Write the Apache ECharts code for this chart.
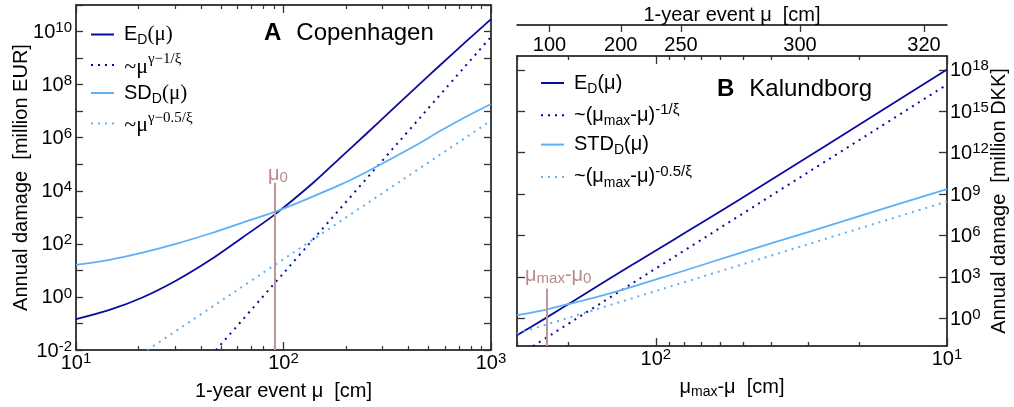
<!DOCTYPE html>
<html><head><meta charset="utf-8">
<script src="https://cdn.jsdelivr.net/npm/echarts@6/dist/echarts.min.js"></script>
<style>html,body{margin:0;padding:0;background:#fff}#c{width:1014px;height:407px}</style>
</head><body><div id="c"></div>
<script>
// ---------- Panel A: Copenhagen (x = 1-year event mu [cm]) ----------
const aMu      = [10, 14.5, 20.9, 30.3, 43.9, 63.5, 92, 140, 187, 250, 326, 450, 568, 750, 1000];
const aExpected= [0.145, 0.324, 0.955, 4.07, 23.4, 174, 1380, 20900, 169800, 1.38e6, 9.55e6, 1.0e8, 5.37e8, 3.89e9, 2.95e10];
const aStd     = [16.2, 25.1, 46.8, 100, 240, 631, 1660, 6310, 16600, 50100, 151000, 603000, 1.78e6, 5.89e6, 1.86e7];
const aMuAsym1 = [47.3, 1000];  const aAsym1 = [0.01, 6.3e9];
const aMuAsym2 = [22.1, 1000];  const aAsym2 = [0.01, 4.37e6];
const aMu0 = 91, aMarkTop = 2e4;
const aYTicks  = [1e-2,1e-1,1,1e1,1e2,1e3,1e4,1e5,1e6,1e7,1e8,1e9,1e10,1e11];
const aYLabels = [1e-2,1,1e2,1e4,1e6,1e8,1e10];

// ---------- Panel B: Kalundborg (x = mu_max - mu [cm]) ----------
const bD        = [300, 240, 190, 121, 51.4, 10];
const bExpected = [0.06, 1.0, 20.9, 7240, 4.17e8, 1.05e18];
const bDStd     = [300, 240, 190, 150, 120, 80, 50, 30, 20, 10];
const bStd      = [1.70, 4.17, 14.1, 50.1, 200, 2820, 66100, 1.78e6, 2.51e7, 2.29e9];
const bDAsym1 = [264, 10];  const bAsym1 = [0.01, 8.5e16];
const bDAsym2 = [300, 10];  const bAsym2 = [0.079, 2.88e8];
const bD0 = 238, bMarkTop = 145;
const bMuMax = 332;
const bTopMu = [100, 200, 250, 300, 320];
const bXMajor = [10, 100];
const bXMinor = [20,30,40,50,60,70,80,90,200,300];
const bYTicks = [1,1e3,1e6,1e9,1e12,1e15,1e18];

const FONT = '"Liberation Sans", Arial, Helvetica, sans-serif';
const SERIF = '"Liberation Serif", "Times New Roman", serif';
const DARK = '#0a0a9e', LIGHT = '#5fb0f4', MARK = '#c29595', MARKTXT = '#b98a8a';

const zip = (xs, ys) => xs.map((x, i) => [x, ys[i]]);
function powLabel(v) { const e = Math.round(Math.log10(v)); return '{b|10}{s|' + e + '}'; }
const POWRICH = {
  b: {fontFamily: FONT, fontSize: 20, color: '#000', lineHeight: 22, verticalAlign: 'bottom'},
  s: {fontFamily: FONT, fontSize: 15, color: '#000', lineHeight: 9, verticalAlign: 'top'}
};
const NAMESTYLE = {fontFamily: FONT, fontSize: 20, color: '#000',
  rich: {n: {fontFamily: FONT, fontSize: 20, color: '#000', lineHeight: 24},
         ns: {fontFamily: FONT, fontSize: 14, color: '#000', lineHeight: 10, verticalAlign: 'bottom'}}};
const AXLINE = {show: true, onZero: false, lineStyle: {color: '#000', width: 1.5}};
const NOLINE = {show: false, onZero: false};
function tick(len, vals) {
  const t = {show: true, inside: true, length: len, lineStyle: {color: '#333', width: 1.3}};
  if (vals) t.customValues = vals;
  return t;
}
const MINOR = {show: true, splitNumber: 9, length: 4, lineStyle: {color: '#333', width: 1.2}};
const NOSPLIT = {show: false};

const LEGRICH = {
  t: {fontFamily: FONT, fontSize: 20, color: '#000', lineHeight: 26},
  ts: {fontFamily: SERIF, fontSize: 21, color: '#000', lineHeight: 26},
  sub: {fontFamily: FONT, fontSize: 14, color: '#000', lineHeight: 10, verticalAlign: 'bottom'},
  h: {fontSize: 1, lineHeight: 26},
  ts2: {fontFamily: SERIF, fontSize: 22, color: '#000', lineHeight: 14, verticalAlign: 'bottom'},
  sup: {fontFamily: SERIF, fontSize: 15, color: '#000', lineHeight: 20, verticalAlign: 'top'},
  sup2: {fontFamily: FONT, fontSize: 15, color: '#000', lineHeight: 10, verticalAlign: 'top'}
};
const LEG = {
  aED: '{t|E}{sub|D}{ts|(μ)}',
  aA1: '{h| }{ts2|~μ}{sup|γ−1/ξ}',
  aSD: '{t|SD}{sub|D}{ts|(μ)}',
  aA2: '{h| }{ts2|~μ}{sup|γ−0.5/ξ}',
  bED: '{t|E}{sub|D}{t|(μ)}',
  bA1: '{t|~(μ}{sub|max}{t|-μ)}{sup2|-1/ξ}',
  bSTD: '{t|STD}{sub|D}{t|(μ)}',
  bA2: '{t|~(μ}{sub|max}{t|-μ)}{sup2|-0.5/ξ}'
};
const MARKRICH = {
  m: {fontFamily: FONT, fontSize: 20, color: MARKTXT, lineHeight: 22},
  s: {fontFamily: FONT, fontSize: 15, color: MARKTXT, lineHeight: 12, verticalAlign: 'bottom'}
};

function legend(names, left, top, gap) {
  return {data: names, orient: 'vertical', left: left, top: top, padding: 0, itemGap: gap,
    itemWidth: 23, itemHeight: 14, selectedMode: false,
    itemStyle: {opacity: 0, borderWidth: 0},
    formatter: n => LEG[n], textStyle: {padding: [0, 0, 0, 5], rich: LEGRICH}};
}
function lineSeries(name, xi, yi, data, color, dotted, extra) {
  const s = {name: name, type: 'line', xAxisIndex: xi, yAxisIndex: yi, data: data,
    symbol: 'none', showSymbol: false, smooth: 0.3, clip: true,
    lineStyle: {color: color, width: dotted ? 2 : 1.8, type: dotted ? [2, 5] : 'solid'},
    itemStyle: {color: color}};
  return Object.assign(s, extra || {});
}
function markLine(x, y0, y1, text, pad, dist) {
  return {markLine: {silent: true, symbol: ['none', 'none'], animation: false,
    lineStyle: {color: MARK, width: 2, type: 'solid'},
    label: {show: true, position: 'end', distance: dist, formatter: text, rich: MARKRICH, padding: [0, 0, 0, pad]},
    data: [[{coord: [x, y0]}, {coord: [x, y1]}]]}};
}

const bTopD = bTopMu.map(m => bMuMax - m);
const bX = {gridIndex: 1, type: 'log', min: 10, max: 300, inverse: true, splitLine: NOSPLIT};
const aX = {gridIndex: 0, type: 'log', min: 10, max: 1000, splitLine: NOSPLIT, minorSplitLine: NOSPLIT};
const TITLERICH = {b: {fontFamily: FONT, fontWeight: 'bold', fontSize: 24, color: '#000'},
                   n: {fontFamily: FONT, fontWeight: 'normal', fontSize: 24, color: '#000'}};

const option = {
  animation: false,
  backgroundColor: '#fff',
  textStyle: {fontFamily: FONT},
  title: [
    {text: '{b|A}   {n|Copenhagen}', left: 264, top: 21, padding: 0, textStyle: {fontWeight: 'normal', rich: TITLERICH}},
    {text: '{b|B}   {n|Kalundborg}', left: 717, top: 77, padding: 0, textStyle: {fontWeight: 'normal', rich: TITLERICH}}
  ],
  legend: [legend(['aED', 'aA1', 'aSD', 'aA2'], 90, 24, 4.5), legend(['bED', 'bA1', 'bSTD', 'bA2'], 540, 73, 6.3)],
  grid: [
    {left: 76, top: 5, width: 415, height: 345, outerBoundsMode: 'none', containLabel: false},
    {left: 517, top: 56, width: 430, height: 290, outerBoundsMode: 'none', containLabel: false}
  ],
  xAxis: [
    Object.assign({}, aX, {position: 'bottom', axisLine: AXLINE, axisTick: tick(8), minorTick: MINOR,
      axisLabel: {margin: 1, formatter: powLabel, rich: POWRICH},
      name: '1-year event μ  [cm]', nameLocation: 'middle', nameGap: 31, nameTextStyle: NAMESTYLE, nameMoveOverlap: false}),
    Object.assign({}, aX, {position: 'top', axisLine: AXLINE, axisTick: tick(8), minorTick: MINOR, axisLabel: {show: false}}),
    Object.assign({}, bX, {position: 'bottom', axisLine: AXLINE, axisTick: tick(8, bXMajor),
      axisLabel: {margin: 1, customValues: bXMajor, formatter: powLabel, rich: POWRICH},
      name: '{n|μ}{ns|max}{n|-μ  [cm]}', nameLocation: 'middle', nameGap: 29, nameTextStyle: NAMESTYLE, nameMoveOverlap: false}),
    Object.assign({}, bX, {position: 'bottom', axisLine: NOLINE, axisTick: tick(4, bXMinor), axisLabel: {show: false}}),
    Object.assign({}, bX, {position: 'top', axisLine: AXLINE, axisTick: tick(8, bXMajor), axisLabel: {show: false}}),
    Object.assign({}, bX, {position: 'top', axisLine: NOLINE, axisTick: tick(4, bXMinor), axisLabel: {show: false}}),
    Object.assign({}, bX, {position: 'top', offset: 31, axisLine: AXLINE, axisTick: tick(7, bTopD),
      axisLabel: {inside: true, margin: 10, customValues: bTopD, formatter: v => String(Math.round(bMuMax - v)),
        fontFamily: FONT, fontSize: 20, color: '#000'},
      name: '1-year event μ  [cm]', nameLocation: 'middle', nameGap: 0, nameTextStyle: NAMESTYLE, nameMoveOverlap: false})
  ],
  yAxis: [
    {gridIndex: 0, type: 'log', min: 0.01, max: 1e11, position: 'left', axisLine: AXLINE, axisTick: tick(7, aYTicks),
     splitLine: NOSPLIT, axisLabel: {margin: 4, customValues: aYLabels, formatter: powLabel, rich: POWRICH},
     name: 'Annual damage  [million EUR]', nameLocation: 'middle', nameGap: 45, nameTextStyle: NAMESTYLE, nameMoveOverlap: false},
    {gridIndex: 0, type: 'log', min: 0.01, max: 1e11, position: 'right', axisLine: AXLINE, axisTick: tick(7, aYTicks),
     splitLine: NOSPLIT, axisLabel: {show: false}},
    {gridIndex: 1, type: 'log', min: 0.01, max: 1e19, position: 'right', axisLine: AXLINE, axisTick: tick(8, bYTicks),
     splitLine: NOSPLIT, axisLabel: {margin: 3, customValues: bYTicks, formatter: powLabel, rich: POWRICH},
     name: 'Annual damage  [million DKK]', nameLocation: 'middle', nameGap: 42, nameTextStyle: NAMESTYLE, nameMoveOverlap: false},
    {gridIndex: 1, type: 'log', min: 0.01, max: 1e19, position: 'left', axisLine: AXLINE, axisTick: tick(8, bYTicks),
     splitLine: NOSPLIT, axisLabel: {show: false}}
  ],
  series: [
    lineSeries('aED', 0, 0, zip(aMu, aExpected), DARK, false, markLine(aMu0, 0.01, aMarkTop, '{m|μ}{s|0}', 6, -3)),
    lineSeries('aA1', 0, 0, zip(aMuAsym1, aAsym1), DARK, true),
    lineSeries('aSD', 0, 0, zip(aMu, aStd), LIGHT, false),
    lineSeries('aA2', 0, 0, zip(aMuAsym2, aAsym2), LIGHT, true),
    lineSeries('bED', 2, 2, zip(bD, bExpected), DARK, false, markLine(bD0, 0.01, bMarkTop, '{m|μ}{s|max}{m|-μ}{s|0}', 24, 2)),
    lineSeries('bA1', 2, 2, zip(bDAsym1, bAsym1), DARK, true),
    lineSeries('bSTD', 2, 2, zip(bDStd, bStd), LIGHT, false),
    lineSeries('bA2', 2, 2, zip(bDAsym2, bAsym2), LIGHT, true)
  ]
};
const chart = echarts.init(document.getElementById('c'), null, {renderer: 'canvas'});
chart.setOption(option);
</script>
</body></html>
